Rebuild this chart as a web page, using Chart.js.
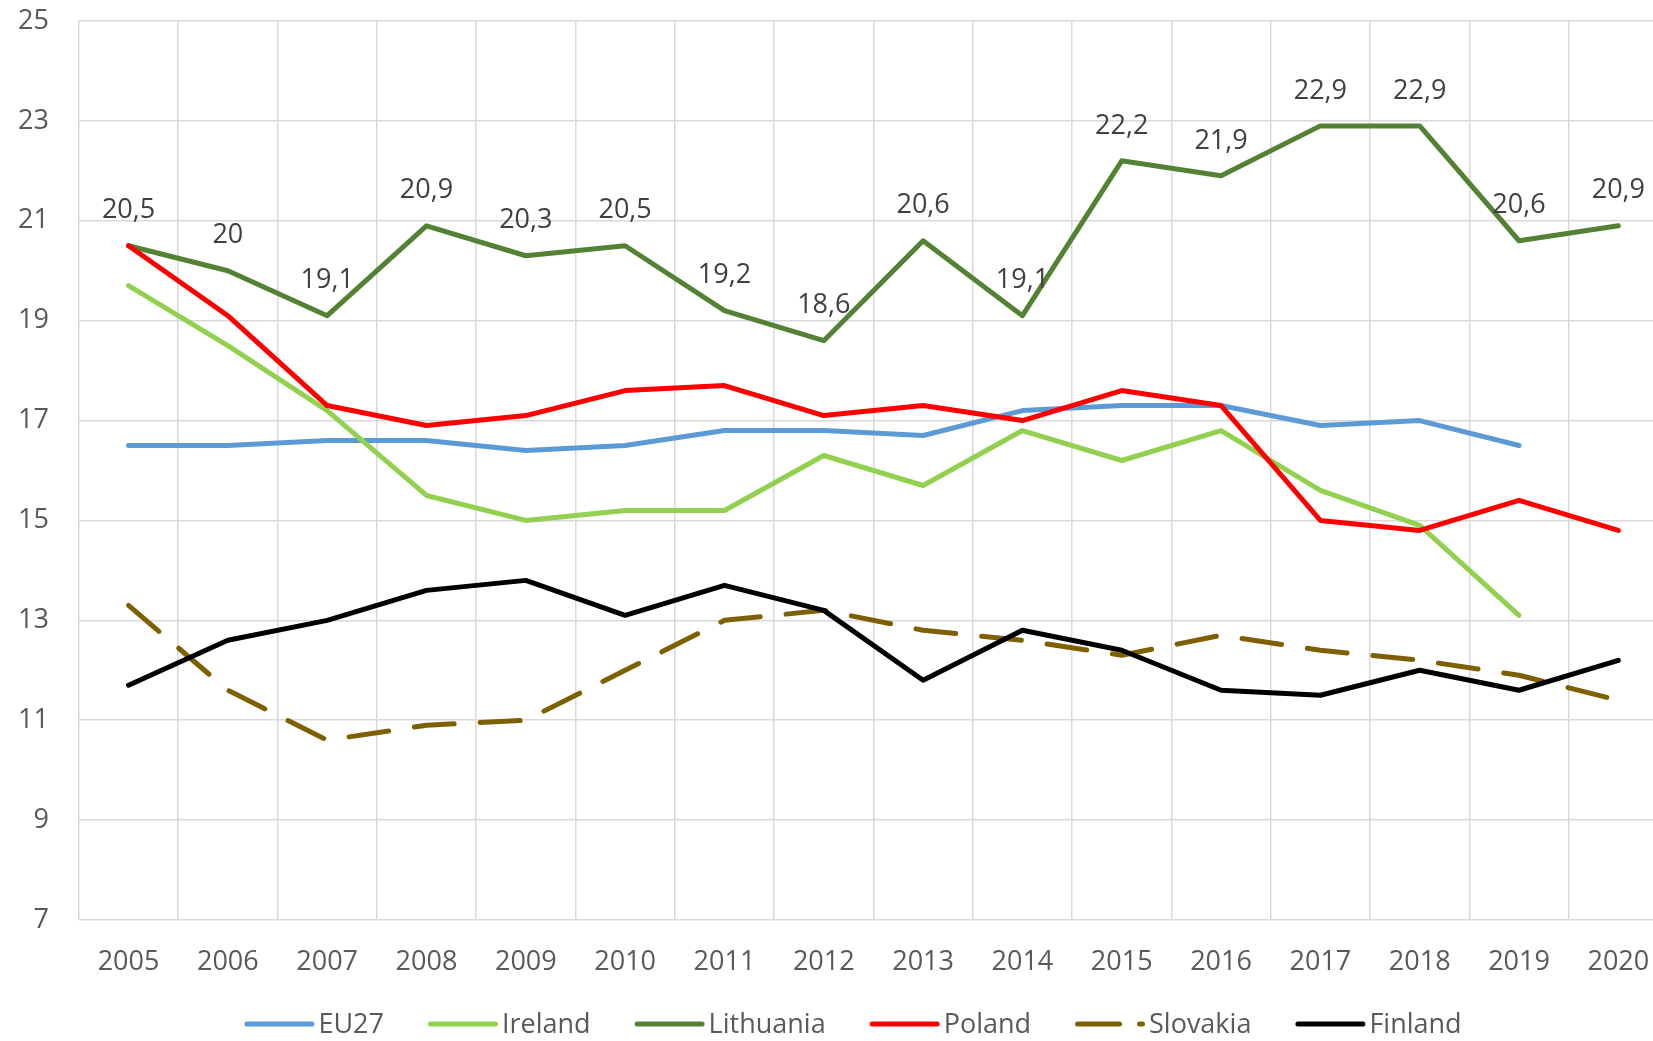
<!DOCTYPE html>
<html>
<head>
<meta charset="utf-8">
<script src="https://cdn.jsdelivr.net/npm/chart.js@4.4.1/dist/chart.umd.min.js"></script>
<style>
  html, body { margin: 0; padding: 0; background: #fff; }
  #wrap { width: 1653px; height: 1041px; overflow: hidden; position: relative; }
  #grafico { display: block; }
</style>
</head>
<body>
<div id="wrap"><canvas id="grafico" width="1668" height="1041"></canvas></div>
<script>
// datos del grafico
const years = ['2005', '2006', '2007', '2008', '2009', '2010', '2011', '2012',
               '2013', '2014', '2015', '2016', '2017', '2018', '2019', '2020'];
const eu27 = [16.5, 16.5, 16.6, 16.6, 16.4, 16.5, 16.8, 16.8, 16.7, 17.2, 17.3, 17.3, 16.9, 17.0, 16.5, null];
const ireland = [19.7, 18.5, 17.2, 15.5, 15.0, 15.2, 15.2, 16.3, 15.7, 16.8, 16.2, 16.8, 15.6, 14.9, 13.1, null];
const lithuania = [20.5, 20.0, 19.1, 20.9, 20.3, 20.5, 19.2, 18.6, 20.6, 19.1, 22.2, 21.9, 22.9, 22.9, 20.6, 20.9];
const poland = [20.5, 19.1, 17.3, 16.9, 17.1, 17.6, 17.7, 17.1, 17.3, 17.0, 17.6, 17.3, 15.0, 14.8, 15.4, 14.8];
const slovakia = [13.3, 11.6, 10.6, 10.9, 11.0, 12.0, 13.0, 13.2, 12.8, 12.6, 12.3, 12.7, 12.4, 12.2, 11.9, 11.4];
const finland = [11.7, 12.6, 13.0, 13.6, 13.8, 13.1, 13.7, 13.2, 11.8, 12.8, 12.4, 11.6, 11.5, 12.0, 11.6, 12.2];
const yTicks = [7, 9, 11, 13, 15, 17, 19, 21, 23, 25];

const FONT = '"Open Sans", "Noto Sans", sans-serif';
const W = 5;

function serie(label, data, color, order, dash) {
    return {
        label: label,
        data: data,
        borderColor: color,
        backgroundColor: color,
        borderWidth: W,
        borderDash: dash || [],
        borderCapStyle: 'round',
        borderJoinStyle: 'round',
        pointRadius: 0,
        pointHoverRadius: 0,
        tension: 0,
        fill: false,
        order: order
    };
}

// etiquetas de Lithuania
const etiquetas = {
    id: 'etiquetas',
    afterDatasetsDraw(chart) {
        const ctx = chart.ctx;
        const meta = chart.getDatasetMeta(2);
        const vals = chart.data.datasets[2].data;
        ctx.save();
        ctx.font = '27px ' + FONT;
        ctx.fillStyle = '#404040';
        ctx.textAlign = 'center';
        ctx.textBaseline = 'middle';
        meta.data.forEach(function (p, i) {
            if (vals[i] == null) return;
            ctx.fillText(String(vals[i]).replace('.', ','), p.x, p.y - 35);
        });
        ctx.restore();
    }
};

// leyenda abajo
const leyenda = {
    id: 'leyenda',
    afterDraw(chart) {
        const ctx = chart.ctx;
        const sample = 70, gap = 4, sep = 44, cx = 853, cy = 1024;
        ctx.save();
        ctx.font = '27px ' + FONT;
        const items = chart.data.datasets.map(function (ds) {
            return { ds: ds, w: sample + gap + ctx.measureText(ds.label).width };
        });
        let total = sep * (items.length - 1);
        items.forEach(function (it) { total += it.w; });
        let x = cx - total / 2;
        items.forEach(function (it) {
            ctx.beginPath();
            ctx.strokeStyle = it.ds.borderColor;
            ctx.lineWidth = W;
            ctx.lineCap = 'round';
            ctx.setLineDash(it.ds.borderDash.length ? [42, 20] : []);
            ctx.moveTo(x + 2.5, cy);
            ctx.lineTo(x + sample - 2.5, cy);
            ctx.stroke();
            ctx.setLineDash([]);
            ctx.fillStyle = '#595959';
            ctx.textAlign = 'left';
            ctx.textBaseline = 'middle';
            ctx.fillText(it.ds.label, x + sample + gap, cy + 1);
            x += it.w + sep;
        });
        ctx.restore();
    }
};

const data = {
    labels: years,
    datasets: [
        serie('EU27', eu27, '#5B9BD5', 6),
        serie('Ireland', ireland, '#92D050', 5),
        serie('Lithuania', lithuania, '#548235', 4),
        serie('Poland', poland, '#FF0000', 3),
        serie('Slovakia', slovakia, '#7F6000', 2, [40, 26]),
        serie('Finland', finland, '#000000', 1)
    ]
};

const config = {
    type: 'line',
    data: data,
    options: {
        responsive: false,
        animation: false,
        devicePixelRatio: 1,
        layout: { padding: { left: 14, right: 0, top: 21, bottom: 58.8 } },
        plugins: {
            legend: { display: false },
            tooltip: { enabled: false }
        },
        scales: {
            x: {
                offset: true,
                grid: {
                    offset: true, color: '#D9D9D9', lineWidth: 1.5,
                    drawTicks: true, tickLength: 21.8, tickColor: 'rgba(0,0,0,0)'
                },
                border: { display: false },
                ticks: { color: '#595959', font: { family: FONT, size: 27 }, padding: 4, maxRotation: 0 }
            },
            y: {
                min: yTicks[0],
                max: yTicks[yTicks.length - 1],
                afterBuildTicks: function (axis) {
                    axis.ticks = yTicks.map(function (v) { return { value: v }; });
                },
                grid: {
                    color: '#D9D9D9', lineWidth: 1.5,
                    drawTicks: true, tickLength: 26, tickColor: 'rgba(0,0,0,0)'
                },
                border: { display: false },
                ticks: { color: '#595959', font: { family: FONT, size: 27 }, padding: 4 }
            }
        }
    },
    plugins: [etiquetas, leyenda]
};

const graph = document.querySelector('#grafico');
new Chart(graph, config);
</script>
</body>
</html>
